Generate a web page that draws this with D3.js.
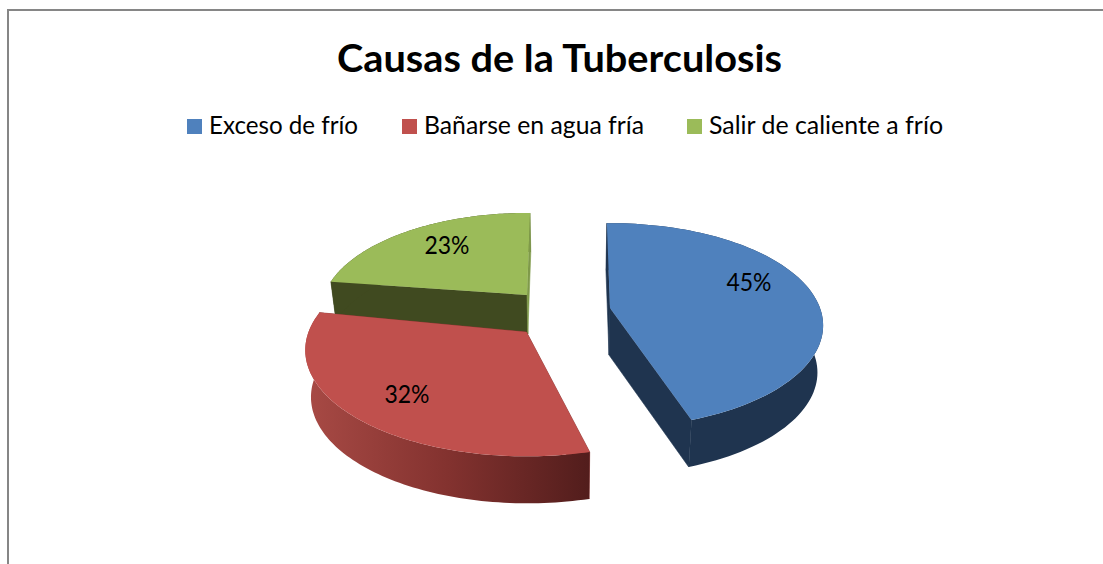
<!DOCTYPE html>
<html><head><meta charset="utf-8">
<script src="https://cdn.jsdelivr.net/npm/d3@7"></script>
<style>html,body{margin:0;padding:0;background:#fff}svg{display:block}text{font-family:Lato,"Open Sans",sans-serif;fill:#000}</style>
</head><body><svg id="c" width="1103" height="564"></svg>
<script>
const titleText = "Causas de la Tuberculosis";
const categories = ["Exceso de frío", "Bañarse en agua fría", "Salir de caliente a frío"];
const values = [45, 32, 23];
const topColors = ["#4f81bd", "#c0504d", "#9bbb59"];
const faceColors = ["#1f344f", "#a5453f", "#404a20"];

// layout of each exploded slice
const layout = [
  {ax: 610, ay: 308, R: 210, h: 47, shift: -2, lab: [139, -25]},
  {ax: 526.5, ay: 332, R: 218, h: 47, shift: 3, lab: [-119.5, 63]},
  {ax: 527, ay: 295, R: 203, h: 39, shift: 0, lab: [-80, -49]}
];
const legendX = [187, 402, 687];
const legendTextW = [149, 220, 234];
const deg = Math.PI / 180, K = 0.473, D = 5.86, vanishX = 565, bottomScale = 0.978;

const svg = d3.select("#c");
const defs = svg.append("defs");
const grad = defs.append("linearGradient").attr("id", "redWall");
grad.append("stop").attr("offset", "0").attr("stop-color", "#a84a45");
grad.append("stop").attr("offset", "0.5").attr("stop-color", "#83322f");
grad.append("stop").attr("offset", "1").attr("stop-color", "#521d1c");

// frame
const frame = d3.path();
frame.moveTo(8, 564); frame.lineTo(8, 10); frame.lineTo(1103, 10);
svg.append("path").attr("d", frame.toString()).attr("fill", "none").attr("stroke", "#868686").attr("stroke-width", 2);

// title
svg.append("text").attr("x", 559.5).attr("y", 72).attr("text-anchor", "middle")
  .attr("font-size", 38).attr("font-weight", 700)
  .attr("textLength", 445).attr("lengthAdjust", "spacingAndGlyphs").text(titleText);

// legend
const leg = svg.append("g").selectAll("g").data(categories).join("g");
leg.append("rect").attr("x", (d, i) => legendX[i]).attr("y", 119).attr("width", 15).attr("height", 15)
  .attr("fill", (d, i) => topColors[i]);
leg.append("text").attr("x", (d, i) => legendX[i] + 22).attr("y", 134).attr("font-size", 25)
  .attr("textLength", (d, i) => legendTextW[i]).attr("lengthAdjust", "spacingAndGlyphs").text(d => d);

// pie
const arcs = d3.pie().sort(null).startAngle(1 * deg).endAngle(361 * deg)(values);

function project(i, a, r, bottom) {
  const L = layout[i];
  const X = Math.sin(a) * r, Y = -Math.cos(a) * r;
  const s = D / (D - Y);
  let x = L.ax + X * L.R * s, y = L.ay + Y * K * L.R * s;
  if (bottom) { x = vanishX + (x - vanishX) * bottomScale; y += L.h; }
  return [x, y];
}
const line = d3.line();
function arcPts(i, a0, a1, bottom) {
  const n = 90;
  return d3.range(n + 1).map(k => project(i, a0 + (a1 - a0) * k / n, 1, bottom));
}
function face(g, i, a, col) {
  g.append("path").attr("d", line([project(i, a, 0, false), project(i, a, 1, false), project(i, a, 1, true), project(i, a, 0, true)]) + "Z")
    .attr("fill", col).attr("stroke", col).attr("stroke-width", 0.6);
}
const drawOrder = [2, 1, 0];
drawOrder.forEach(i => {
  const sh = layout[i].shift * deg, a0 = arcs[i].startAngle + sh, a1 = arcs[i].endAngle + sh;
  const g = svg.append("g");
  const wallFill = i === 1 ? "url(#redWall)" : faceColors[i];
  const sideFill = i === 1 ? "#8a3633" : faceColors[i];
  face(g, i, a0, sideFill);
  // outer wall
  g.append("path").attr("d", line(arcPts(i, a0, a1, false).concat(arcPts(i, a0, a1, true).reverse())) + "Z").attr("fill", wallFill);
  // end face is drawn above the wall
  face(g, i, a1, i === 2 ? "#7f9a4a" : sideFill);
  // top surface
  g.append("path").attr("d", line([project(i, 0, 0, false)].concat(arcPts(i, a0, a1, false))) + "Z").attr("fill", topColors[i]);
});

// data labels
svg.append("g").selectAll("text").data(arcs).join("text")
  .attr("x", (d, i) => layout[i].ax + layout[i].lab[0])
  .attr("y", (d, i) => layout[i].ay + layout[i].lab[1] + 8)
  .attr("text-anchor", "middle").attr("font-size", 25)
  .attr("textLength", 45).attr("lengthAdjust", "spacingAndGlyphs")
  .text(d => d.value + "%");
</script></body></html>
